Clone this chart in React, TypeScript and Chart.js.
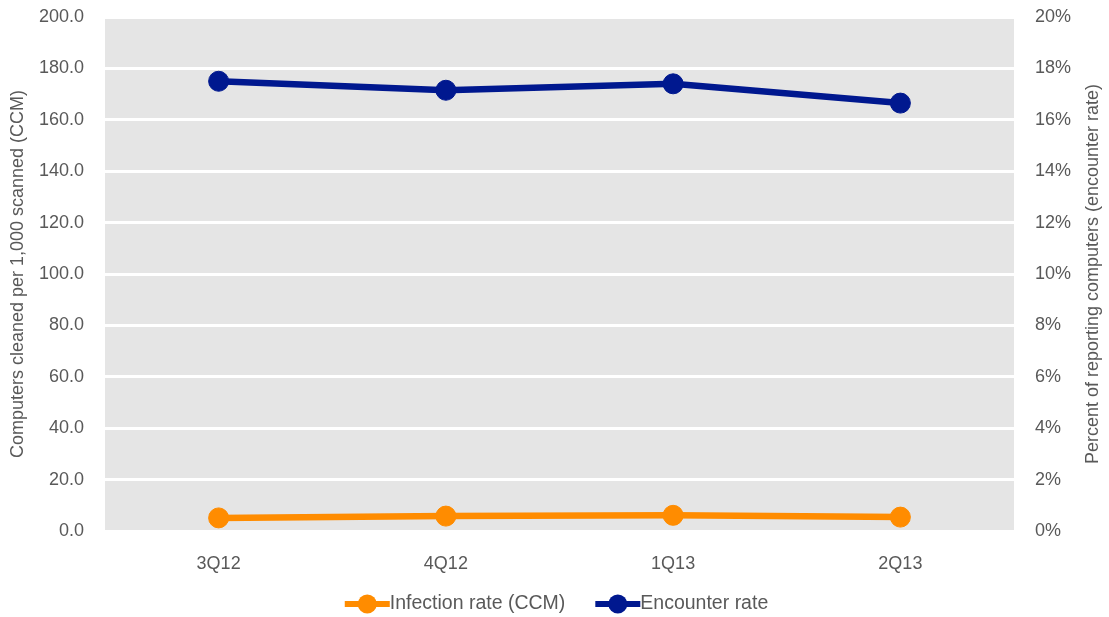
import { useEffect, useRef } from "react";
import { Chart, registerables } from "chart.js";

Chart.register(...registerables);

const quarters = ["3Q12", "4Q12", "1Q13", "2Q13"];
const infectionRate = [5.1, 5.8, 6.1, 5.4];
const encounterRate = [17.5, 17.15, 17.4, 16.65];

const leftTitle = "Computers cleaned per 1,000 scanned (CCM)";
const rightTitle = "Percent of reporting computers (encounter rate)";

const FONT = "'Liberation Sans', Arial, sans-serif";
const TEXT = "#595959";
const ORANGE = "#ff8c00";
const NAVY = "#00188f";

const plotBackground = {
  id: "plotBackground",
  beforeDraw(chart: any) {
    const { ctx, chartArea } = chart;
    ctx.save();
    ctx.fillStyle = "#e5e5e5";
    ctx.fillRect(chartArea.left, chartArea.top, chartArea.right - chartArea.left, chartArea.bottom - chartArea.top);
    ctx.restore();
  },
};

const axisTitles = {
  id: "axisTitles",
  afterDraw(chart: any) {
    const { ctx, chartArea } = chart;
    const cy = (chartArea.top + chartArea.bottom) / 2;
    ctx.save();
    ctx.font = `18px ${FONT}`;
    ctx.fillStyle = TEXT;
    ctx.textAlign = "center";
    ctx.textBaseline = "middle";
    for (const [x, text] of [
      [18, leftTitle],
      [1093, rightTitle],
    ] as [number, string][]) {
      ctx.save();
      ctx.translate(x, cy);
      ctx.rotate(-Math.PI / 2);
      ctx.fillText(text, 0, 0);
      ctx.restore();
    }
    ctx.restore();
  },
};

const lineLegend = {
  id: "lineLegend",
  afterDraw(chart: any) {
    const { ctx } = chart;
    const y = 604;
    const lineLen = 45;
    const gap = 30;
    ctx.save();
    ctx.font = `19.5px ${FONT}`;
    const items = chart.data.datasets.map((ds: any) => ({
      label: ds.label as string,
      color: ds.borderColor as string,
      w: lineLen + ctx.measureText(ds.label).width,
    }));
    const total = items.reduce((s: number, it: any) => s + it.w, 0) + gap * (items.length - 1);
    let x = chart.width / 2 - total / 2 + 2;
    for (const it of items) {
      ctx.strokeStyle = it.color;
      ctx.lineWidth = 6;
      ctx.beginPath();
      ctx.moveTo(x, y);
      ctx.lineTo(x + lineLen, y);
      ctx.stroke();
      ctx.fillStyle = it.color;
      ctx.beginPath();
      ctx.arc(x + lineLen / 2, y, 9.5, 0, Math.PI * 2);
      ctx.fill();
      ctx.fillStyle = TEXT;
      ctx.textAlign = "left";
      ctx.textBaseline = "middle";
      ctx.fillText(it.label, x + lineLen, y);
      x += it.w + gap;
    }
    ctx.restore();
  },
};

export default function App() {
  const ref = useRef<HTMLCanvasElement | null>(null);

  useEffect(() => {
    document.body.style.margin = "0";
    const canvas = ref.current;
    if (!canvas) return;
    const fitVertical = (width: number) => (scale: any) => {
      scale.width = width;
      scale.paddingTop = 0;
      scale.paddingBottom = 0;
    };
    const chart = new Chart(canvas, {
      type: "line",
      data: {
        labels: quarters,
        datasets: [
          {
            label: "Infection rate (CCM)",
            data: infectionRate,
            yAxisID: "y",
            borderColor: ORANGE,
            backgroundColor: ORANGE,
            borderWidth: 6.5,
            pointRadius: 10,
            pointBorderWidth: 1,
            pointBackgroundColor: ORANGE,
            pointBorderColor: ORANGE,
            tension: 0,
          },
          {
            label: "Encounter rate",
            data: encounterRate,
            yAxisID: "y1",
            borderColor: NAVY,
            backgroundColor: NAVY,
            borderWidth: 6.5,
            pointRadius: 10,
            pointBorderWidth: 1,
            pointBackgroundColor: NAVY,
            pointBorderColor: NAVY,
            tension: 0,
          },
        ],
      },
      options: {
        responsive: false,
        animation: false,
        layout: { padding: { top: 17, bottom: 36, left: 0, right: 0 } },
        plugins: {
          legend: { display: false },
          tooltip: { enabled: false },
        },
        scales: {
          x: {
            offset: true,
            grid: { display: false, drawTicks: false },
            border: { display: false },
            ticks: { color: TEXT, font: { family: FONT, size: 18 }, padding: 22 },
            afterFit(scale: any) {
              scale.height = 50;
              scale.paddingLeft = 0;
              scale.paddingRight = 0;
            },
          },
          y: {
            position: "left",
            min: 0,
            max: 200,
            grid: { color: "#ffffff", lineWidth: 3, drawTicks: false },
            border: { display: false },
            ticks: {
              stepSize: 20,
              color: TEXT,
              font: { family: FONT, size: 18 },
              padding: 21,
              callback: (v: any) => Number(v).toFixed(1),
            },
            afterFit: fitVertical(105),
          },
          y1: {
            position: "right",
            min: 0,
            max: 20,
            grid: { display: false, drawTicks: false },
            border: { display: false },
            ticks: {
              stepSize: 2,
              color: TEXT,
              font: { family: FONT, size: 18 },
              padding: 21,
              callback: (v: any) => `${v}%`,
            },
            afterFit: fitVertical(95),
          },
        },
      },
      plugins: [plotBackground, axisTitles, lineLegend],
    });
    return () => chart.destroy();
  }, []);

  return <canvas ref={ref} width={1109} height={617} style={{ display: "block" }} />;
}
